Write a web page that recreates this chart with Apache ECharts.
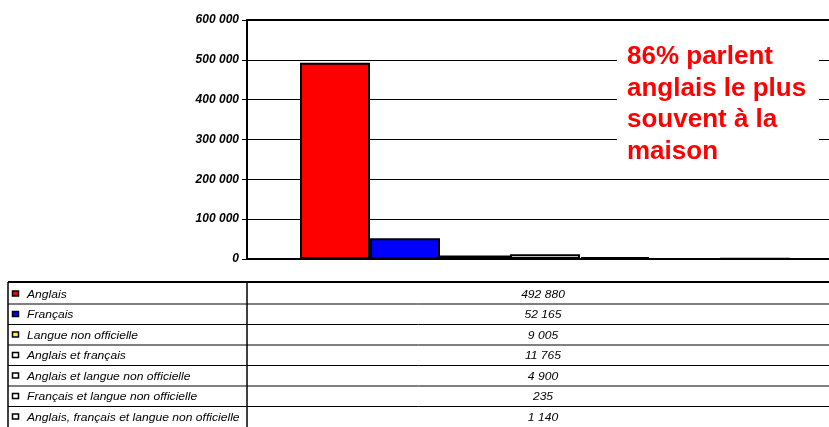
<!DOCTYPE html>
<html>
<head>
<meta charset="utf-8">
<script src="https://cdn.jsdelivr.net/npm/echarts@6/dist/echarts.min.js"></script>
<style>
html,body{margin:0;padding:0;background:#fff;}
#chart{width:829px;height:427px;}
</style>
</head>
<body>
<div id="chart"></div>
<script>
var seriesNames = ['Anglais', 'Français', 'Langue non officielle', 'Anglais et français',
  'Anglais et langue non officielle', 'Français et langue non officielle',
  'Anglais, français et langue non officielle'];
var seriesValues = [492880, 52165, 9005, 11765, 4900, 235, 1140];
var seriesColors = ['#FF0000', '#0000FF', '#FFFF00', '#FFFFFF', '#FFFFFF', '#FFFFFF', '#FFFFFF'];
var annotationLines = ['86% parlent', 'anglais le plus', 'souvent à la', 'maison'];
var yMin = 0, yMax = 600000, yStep = 100000;

function fmt(v) {
  return String(v).replace(/\B(?=(\d{3})+(?!\d))/g, ' ');
}

var chart = echarts.init(document.getElementById('chart'), null, {renderer: 'canvas'});

// invisible spacer so the bar group sits where the (cropped) original plot places it
var series = [{
  name: 'spacer', type: 'bar', data: ['-'], barWidth: 14, barGap: '0%',
  itemStyle: {color: 'transparent'}, silent: true
}];
seriesNames.forEach(function (name, i) {
  series.push({
    name: name,
    type: 'bar',
    data: [seriesValues[i]],
    barWidth: 70,
    barGap: '0%',
    itemStyle: {color: seriesColors[i], borderColor: '#000', borderWidth: 2},
    silent: true,
    animation: false
  });
});

var graphics = [];
// annotation box
graphics.push({
  type: 'rect', shape: {x: 617, y: 32, width: 202, height: 138},
  style: {fill: '#fff'}, z: 100
});
graphics.push({
  type: 'text', x: 627, y: 41, z: 101,
  style: {
    text: annotationLines.join('\n'),
    fill: '#FF0000',
    font: 'bold 26px "Liberation Sans", Arial, sans-serif',
    lineHeight: 31.7
  }
});
// data table
var tTop = 282, rowH = 20.5, firstLine = 304;
graphics.push({type: 'line', shape: {x1: 8, y1: tTop, x2: 829, y2: tTop}, style: {stroke: '#000', lineWidth: 2}});
graphics.push({type: 'line', shape: {x1: 8, y1: tTop, x2: 8, y2: 427}, style: {stroke: '#000', lineWidth: 1.5}});
graphics.push({type: 'line', shape: {x1: 247, y1: tTop, x2: 247, y2: 427}, style: {stroke: '#000', lineWidth: 1.5}});
seriesNames.forEach(function (name, i) {
  var cy = tTop + 12.5 + rowH * i;
  if (i < seriesNames.length - 1) {
    var ly = firstLine + rowH * i;
    graphics.push({type: 'line', shape: {x1: 8, y1: ly, x2: 829, y2: ly}, style: {stroke: '#000', lineWidth: 1}});
  }
  graphics.push({
    type: 'rect', shape: {x: 12.5, y: cy - 3.5, width: 6, height: 5},
    style: {fill: seriesColors[i], stroke: '#000', lineWidth: 1.5}
  });
  graphics.push({
    type: 'text', x: 27, y: cy, scaleX: 1.1,
    style: {text: name, fill: '#000', font: 'italic 11px "Liberation Sans", Arial, sans-serif', verticalAlign: 'middle', align: 'left'}
  });
  graphics.push({
    type: 'text', x: 543, y: cy, scaleX: 1.1,
    style: {text: fmt(seriesValues[i]), fill: '#000', font: 'italic 11px "Liberation Sans", Arial, sans-serif', verticalAlign: 'middle', align: 'center'}
  });
});

chart.setOption({
  animation: false,
  backgroundColor: '#fff',
  grid: {left: 247, right: 0, top: 20, bottom: 168, containLabel: false},
  xAxis: [{
    type: 'category', data: [''], position: 'bottom',
    axisLine: {show: true, lineStyle: {color: '#000', width: 2}},
    axisTick: {show: false}, axisLabel: {show: false}, z: 10
  }, {
    type: 'category', data: [''], position: 'top',
    axisLine: {show: true, lineStyle: {color: '#000', width: 2}},
    axisTick: {show: false}, axisLabel: {show: false}
  }],
  yAxis: {
    type: 'value', min: yMin, max: yMax, interval: yStep,
    axisLine: {show: true, lineStyle: {color: '#000', width: 2}},
    axisTick: {show: true, length: 5, lineStyle: {color: '#000', width: 1}},
    axisLabel: {
      margin: 8, color: '#000', fontSize: 12, fontWeight: 'bold', fontStyle: 'italic',
      fontFamily: '"Liberation Sans", Arial, sans-serif',
      formatter: function (v) { return fmt(v); }
    },
    splitLine: {show: true, lineStyle: {color: '#000', width: 1}}
  },
  series: series,
  graphic: graphics
});
</script>
</body>
</html>
